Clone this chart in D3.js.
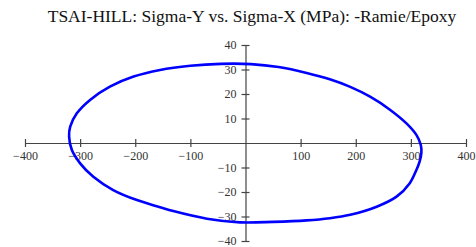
<!DOCTYPE html>
<html><head><meta charset="utf-8">
<script src="https://cdn.jsdelivr.net/npm/d3@7"></script>
<style>html,body{margin:0;padding:0;background:#fff;}svg{display:block;}</style>
</head><body>
<script>
const title = "TSAI-HILL: Sigma-Y vs. Sigma-X (MPa): -Ramie/Epoxy";
const xTicks = [-400,-300,-200,-100,100,200,300,400];
const yTicks = [-40,-30,-20,-10,10,20,30,40];
// Envelope points (sigma-x, sigma-y in MPa)
const sigmaX = [-320,-318,-306,-282,-246,-203,-155,-100,-45,10,60,111,153,190,226,262,292,310,318,319,316,310,298,274,238,190,153,111,50,-10,-70,-131,-155,-197,-240,-276,-300,-315];
const sigmaY = [2.6,6.7,12.1,17.6,23.0,27.1,29.8,31.5,32.3,32.2,31.0,28.6,26.0,22.9,18.9,13.6,8.0,3.3,-0.8,-4.0,-7.5,-11.0,-16.4,-21.9,-26.0,-29.3,-30.7,-31.6,-32.2,-32.4,-30.9,-27.8,-26.2,-23.3,-19.2,-13.8,-8.3,-2.9];

const W = 476, H = 247;
const svg = d3.select("body").append("svg").attr("width", W).attr("height", H);
const x = d3.scaleLinear().domain([-400,400]).range([25,466]);
const y = d3.scaleLinear().domain([-40,40]).range([241,45]);

svg.append("text").attr("x", 252).attr("y", 22).attr("text-anchor","middle")
  .attr("font-family","Liberation Serif, Times New Roman, serif").attr("font-size",17.5)
  .attr("fill","#111").text(title);

const axColor = "#444";
const xAxis = d3.axisBottom(x).tickValues(xTicks).tickSizeInner(4).tickSizeOuter(0).tickPadding(4);
const gx = svg.append("g").attr("transform",`translate(0,${y(0)})`).call(xAxis);
const yAxis = d3.axisLeft(y).tickValues(yTicks).tickSizeInner(4).tickSizeOuter(0).tickPadding(5);
const gy = svg.append("g").attr("transform",`translate(${x(0)},0)`).call(yAxis);
[gx, gy].forEach(g => {
  g.select(".domain").attr("stroke", axColor).attr("stroke-width",1.2);
  g.selectAll(".tick line").attr("stroke", axColor).attr("stroke-width",1.2);
  g.selectAll(".tick text").attr("font-family","Liberation Serif, Times New Roman, serif")
    .attr("font-size",12).attr("fill","#333");
});
gx.selectAll(".tick line").attr("y1",-4).attr("y2",4);
gy.selectAll(".tick line").attr("x1",-4).attr("x2",4);

const pts = sigmaX.map((v,i)=>[v, sigmaY[i]]);
const line = d3.line().x(d=>x(d[0])).y(d=>y(d[1])).curve(d3.curveCatmullRomClosed.alpha(0.5));
svg.append("path").datum(pts).attr("d", line).attr("fill","none")
  .attr("stroke","#0000ff").attr("stroke-width",2.6);
</script>
</body></html>
